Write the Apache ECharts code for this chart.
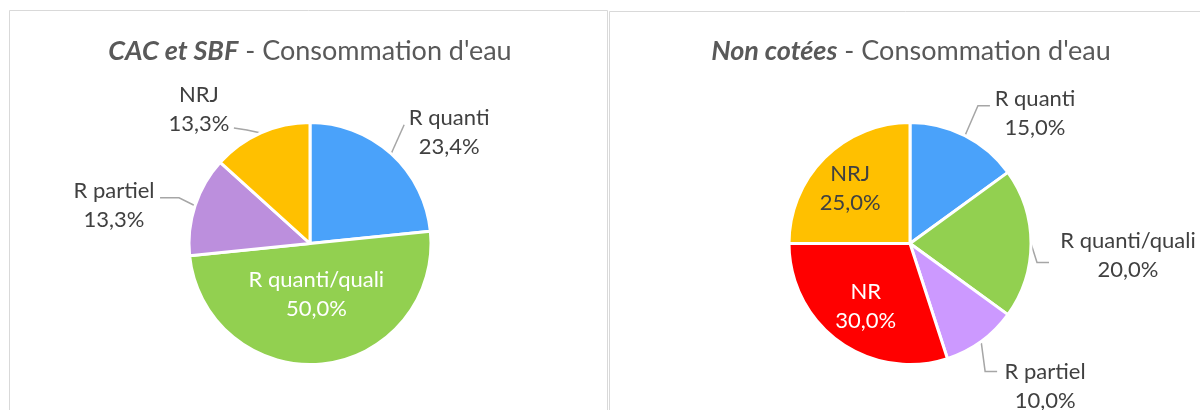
<!DOCTYPE html>
<html>
<head>
<meta charset="utf-8">
<script src="https://cdn.jsdelivr.net/npm/echarts@6/dist/echarts.min.js"></script>
<style>
  html, body { margin: 0; padding: 0; background: #fff; }
  #chart { width: 1200px; height: 410px; }
</style>
</head>
<body>
<div id="chart"></div>
<script>
// données (en %)
const cacNames = ['R quanti', 'R quanti/quali', 'R partiel', 'NRJ']
const cacValues = [23.4, 50.0, 13.3, 13.3]
const cacColors = ['#4AA2FA', '#92D050', '#BC8FDD', '#FFC000']

const ncNames = ['R quanti', 'R quanti/quali', 'R partiel', 'NR', 'NRJ']
const ncValues = [15.0, 20.0, 10.0, 30.0, 25.0]
const ncColors = ['#4AA2FA', '#92D050', '#CC99FF', '#FF0000', '#FFC000']

// placement des étiquettes (décalages depuis le bord de la part)
const cacPlace = [
  { bx: 13, by: -29, ex: 13, ey: -29, tx: 58, ty: -21 },
  { inside: true, dx: 0, dy: -12, color: '#fff' },
  { bx: -16, by: -8, ex: -35, ey: -8, tx: -81, ty: 0 },
  { bx: -14, by: -3, ex: -27, ey: -5, tx: -62, ty: -24 }
]
const ncPlace = [
  { bx: 13, by: -30, ex: 25, ey: -30, tx: 70, ty: -22 },
  { bx: 6, by: 19, ex: 18, ey: 19, tx: 97, ty: 12 },
  { bx: 4, by: 30, ex: 16, ey: 30, tx: 64, ty: 45 },
  { inside: true, dx: -7, dy: 12, color: '#fff' },
  { inside: true, dx: -15, dy: -10, color: '#404040' }
]

const FONT = 'Lato'

function fmt(v) {
  return v.toFixed(1).replace('.', ',') + '%'
}

function buildData(names, values, colors, place) {
  return names.map((n, i) => ({
    name: n,
    value: values[i],
    itemStyle: { color: colors[i] },
    label: {
      position: place[i].inside ? 'inside' : 'outside',
      color: place[i].color || '#404040'
    },
    labelLine: { show: !place[i].inside }
  }))
}

function makeLayout(place) {
  return function (params) {
    const p = place[params.dataIndex]
    if (p.inside) return { dx: p.dx, dy: p.dy }
    const a = params.labelLinePoints[0]
    return {
      x: a[0] + p.tx,
      y: a[1] + p.ty,
      align: 'center',
      verticalAlign: 'middle',
      labelLinePoints: [a, [a[0] + p.bx, a[1] + p.by], [a[0] + p.ex, a[1] + p.ey]]
    }
  }
}

function pieSeries(center, names, values, colors, place) {
  return {
    type: 'pie',
    center: center,
    radius: 121,
    startAngle: 90,
    clockwise: true,
    avoidLabelOverlap: false,
    itemStyle: { borderColor: '#fff', borderWidth: 3 },
    label: {
      fontFamily: FONT,
      fontSize: 22,
      lineHeight: 29,
      align: 'center',
      formatter: p => p.name + '\n' + fmt(p.value)
    },
    labelLine: { lineStyle: { color: '#A6A6A6', width: 1.5 }, length: 20, length2: 10 },
    labelLayout: makeLayout(place),
    emphasis: { disabled: true },
    data: buildData(names, values, colors, place)
  }
}

function titleOpt(bold, rest, x) {
  return {
    text: '{b|' + bold + '}' + rest,
    left: x,
    top: 33,
    textAlign: 'center',
    textStyle: {
      fontFamily: FONT, fontSize: 27, fontWeight: 'normal', color: '#595959',
      rich: { b: { fontFamily: FONT, fontSize: 27, fontWeight: 'bold', fontStyle: 'italic', color: '#595959' } }
    }
  }
}

const chart = echarts.init(document.getElementById('chart'))
chart.setOption({
  animation: false,
  backgroundColor: '#fff',
  graphic: [
    { type: 'rect', shape: { x: 9.5, y: 10.5, width: 598, height: 420 }, style: { fill: 'none', stroke: '#D9D9D9', lineWidth: 1 } },
    { type: 'rect', shape: { x: 609.5, y: 11.5, width: 620, height: 420 }, style: { fill: 'none', stroke: '#D9D9D9', lineWidth: 1 } }
  ],
  title: [
    titleOpt('CAC et SBF', " - Consommation d'eau", 305),
    titleOpt('Non cotées', " - Consommation d'eau", 906)
  ],
  series: [
    pieSeries([310, 243.5], cacNames, cacValues, cacColors, cacPlace),
    pieSeries([910, 243.5], ncNames, ncValues, ncColors, ncPlace)
  ]
})
</script>
</body>
</html>
